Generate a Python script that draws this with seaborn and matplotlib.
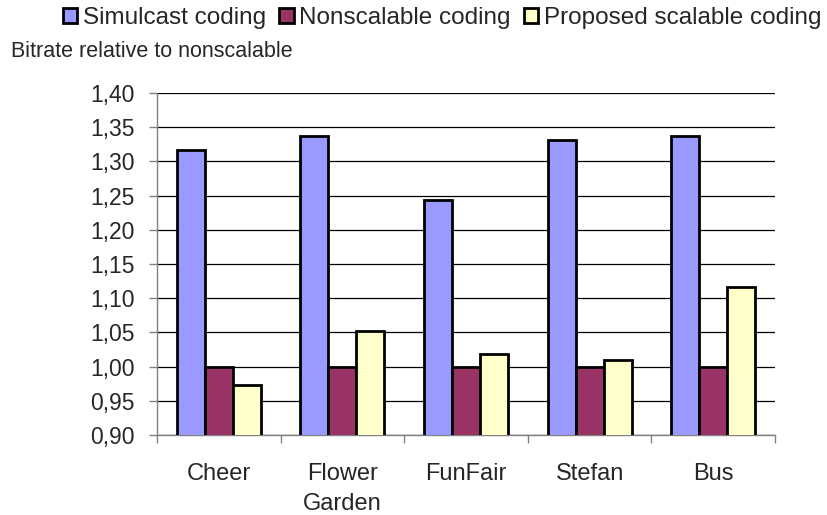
import matplotlib
matplotlib.use("Agg")
import matplotlib.pyplot as plt
import seaborn as sns
import pandas as pd
import numpy as np
from matplotlib.ticker import FuncFormatter, MultipleLocator, FixedLocator
from matplotlib.patches import Patch

categories = ["Cheer", "Flower\nGarden", "FunFair", "Stefan", "Bus"]
series = ["Simulcast coding", "Nonscalable coding", "Proposed scalable coding"]
simulcast = [1.317, 1.337, 1.243, 1.331, 1.337]
nonscalable = [1.00, 1.00, 1.00, 1.00, 1.00]
proposed = [0.973, 1.052, 1.018, 1.010, 1.116]
colors = ["#9999FF", "#993366", "#FFFFCC"]

rows = []
for s, vals in zip(series, [simulcast, nonscalable, proposed]):
    for c, v in zip(categories, vals):
        rows.append({"cat": c, "series": s, "value": v})
df = pd.DataFrame(rows)

sns.set_theme(style="white")
plt.rcParams['font.family'] = ['Liberation Sans', 'DejaVu Sans']

fig = plt.figure(figsize=(8.27, 5.15), dpi=100)
ax = fig.add_axes([157/827, 1 - 435/515, (775-157)/827, (435-93)/515])

sns.barplot(data=df, x="cat", y="value", hue="series", order=categories,
            hue_order=series, palette=colors, saturation=1, width=0.68,
            edgecolor="black", linewidth=2.0, ax=ax, legend=False, zorder=3)

ax.set_ylim(0.90, 1.40)
ax.set_xlim(-0.5, 4.5)
ax.yaxis.set_major_locator(MultipleLocator(0.05))
ax.yaxis.set_major_formatter(FuncFormatter(lambda v, p: f"{v:.2f}".replace(".", ",")))
ax.grid(axis="y", color="black", linewidth=0.9, zorder=0)
ax.set_axisbelow(True)

for side in ["top", "right"]:
    ax.spines[side].set_visible(False)
ax.spines["left"].set_color("#808080")
ax.spines["bottom"].set_color("#808080")
ax.spines["left"].set_linewidth(1.0)
ax.spines["bottom"].set_linewidth(1.0)

ax.tick_params(axis="y", which="major", direction="out", length=5.8, width=1,
               color="#808080", labelsize=16.5, pad=10.5, left=True)
ax.set_xticks(range(len(categories)))
ax.set_xticklabels(categories, fontsize=17, linespacing=1.5)
ax.tick_params(axis="x", which="major", length=0, pad=20)
ax.xaxis.set_minor_locator(FixedLocator(np.arange(-0.5, 5.0, 1.0)))
ax.tick_params(axis="x", which="minor", direction="out", length=5.8, width=1,
               color="#808080", bottom=True)
ax.set_xlabel("")
ax.set_ylabel("")

fig.text(11/827, 1 - 57/515, "Bitrate relative to nonscalable", fontsize=15.5,
         ha="left", va="baseline")

handles = [Patch(facecolor=c, edgecolor="black", linewidth=2.0) for c in colors]
fig.legend(handles, series, loc="center", bbox_to_anchor=(442/827, 1 - 18/515),
           ncol=3, frameon=False, fontsize=17.5, handlelength=0.6, handleheight=0.6,
           handletextpad=0.22, columnspacing=0.55, borderaxespad=0, borderpad=0)

fig.savefig("out.png", dpi=100)
